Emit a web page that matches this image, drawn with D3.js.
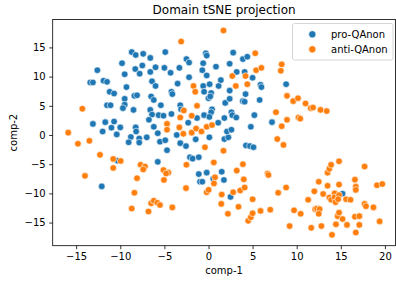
<!DOCTYPE html>
<html>
<head>
<meta charset="utf-8">
<script src="https://cdn.jsdelivr.net/npm/d3@7"></script>
<style>
  body { margin: 0; background: #fff; }
  text { font-family: "DejaVu Sans", sans-serif; fill: #000; }
</style>
</head>
<body>
<div id="chart"></div>
<script>
// series
var groups = ['pro-QAnon', 'anti-QAnon'];
var colors = ['#1f77b4', '#ff7f0e'];
var xTicks = [-15, -10, -5, 0, 5, 10, 15, 20];
var yTicks = [-15, -10, -5, 0, 5, 10, 15];

var proQAnon = [
  [-13.4,9.0],[-13.1,9.0],[-12.6,11.1],[-11.9,9.3],[-11.5,9.1],[-11.2,7.4],[-10.7,7.1],
  [-11.5,5.1],[-11.1,5.1],[-13.1,1.9],[-11.7,2.2],[-10.7,2.3],[-12.0,0.6],[-11.0,1.25],
  [-10.0,1.3],[-10.4,0.1],[-12.1,-8.8],[-10.3,-4.4],[-9.8,12.3],[-9.5,10.4],[-9.3,8.2],
  [-9.5,6.2],[-9.5,5.2],[-9.7,4.6],[-8.7,14.2],[-8.25,13.7],[-7.4,13.9],[-6.6,13.2],
  [-7.5,11.9],[-8.3,11.3],[-7.8,10.5],[-6.6,10.8],[-6.0,11.6],[-5.0,11.5],[-4.3,10.65],
  [-6.4,9.2],[-6.0,8.4],[-8.4,6.7],[-8.1,6.8],[-6.5,6.6],[-6.2,6.0],[-5.4,5.1],[-8.5,4.3],
  [-6.6,4.3],[-6.4,3.5],[-5.65,3.4],[-5.1,3.3],[-6.75,2.6],[-6.2,1.4],[-8.25,1.3],
  [-8.2,0.6],[-8.8,-0.35],[-7.85,-0.6],[-7.0,-0.4],[-9.05,-1.25],[-7.85,-1.3],[-5.75,0.3],
  [-5.5,-1.15],[-4.9,-0.9],[-4.7,-2.6],[-5.75,-4.6],[-4.9,14.2],[-3.3,11.5],[-3.5,8.8],
  [-4.2,7.4],[-4.1,7.0],[-3.2,5.1],[-3.1,4.4],[-4.2,3.6],[-3.6,0.0],[-3.2,-1.4],
  [-2.55,-1.9],[-2.5,13.0],[-2.2,12.4],[-2.2,9.9],[-2.3,2.1],[-2.1,-3.8],[-1.8,-4.05],
  [-1.1,-3.8],[-1.1,-6.7],[-0.2,-6.45],[-0.96,-8.0],[-0.7,-8.0],[0.54,-7.5],[-1.3,2.9],
  [-1.45,-0.75],[-0.6,8.4],[-0.7,11.1],[-0.6,12.3],[-0.3,14.0],[-0.2,13.6],[-0.2,10.2],
  [-0.5,7.4],[-0.5,3.4],[0.13,8.7],[0.3,7.2],[0.0,6.3],[0.2,6.6],[0.4,4.4],[0.3,3.9],
  [0.1,3.1],[0.1,-0.4],[0.85,11.7],[1.15,8.4],[1.4,9.4],[1.1,2.1],[1.8,2.9],[1.5,-6.3],
  [1.75,-7.7],[1.8,-0.7],[2.25,-0.4],[2.1,0.6],[2.6,0.9],[2.4,12.2],[2.4,7.6],[1.9,5.5],
  [2.4,6.2],[2.6,3.9],[2.7,3.4],[3.15,3.0],[2.8,14.1],[3.2,10.8],[2.5,-10.6],[3.9,13.0],
  [4.4,13.4],[4.1,10.8],[4.2,7.0],[3.9,5.8],[4.1,5.7],[4.8,1.4],[5.0,9.8],[5.2,3.4],
  [5.8,6.0],[5.9,8.6],[6.0,8.2],[4.25,-1.8],[4.7,-1.9],[5.1,-2.1],[7.2,2.2],[8.8,8.7],
  [15.2,-10.05]
];

var antiQAnon = [
  [-15.9,0.4],[-14.8,-1.5],[-14.3,4.5],[-13.5,-1.0],[-14.0,-7.0],[-12.3,-3.4],[-10.8,-4.1],
  [-9.95,-4.45],[-10.8,-5.65],[-8.1,-7.4],[-8.4,-9.9],[-8.7,-12.6],[-7.7,-5.1],[-7.2,-5.4],
  [-7.4,-5.9],[-6.8,-13.1],[-6.5,-11.7],[-6.2,-11.25],[-5.8,-11.6],[-5.5,-12.0],[-5.1,-6.0],
  [-4.55,-6.45],[-4.8,-6.6],[-5.05,-7.7],[-4.7,1.9],[-4.7,0.9],[-4.1,-12.4],[-3.1,16.0],
  [-3.2,3.0],[-3.3,1.3],[-2.8,4.2],[-2.85,0.2],[-2.5,-5.1],[-2.55,-9.1],[-1.7,8.4],
  [-1.5,7.4],[-1.3,5.0],[-1.9,3.3],[-1.9,0.4],[-1.4,1.1],[-0.8,0.6],[-0.4,-2.1],[-0.2,1.4],
  [0.4,1.7],[-0.2,-9.8],[0.02,-9.4],[0.6,-4.7],[0.74,-7.25],[0.62,-8.3],[1.7,17.9],
  [1.7,-2.7],[1.5,-10.2],[1.45,-11.8],[2.2,-13.5],[2.7,10.1],[3.1,8.4],[2.8,-9.8],
  [3.2,-6.1],[3.6,-9.5],[4.1,-9.0],[3.4,-12.3],[3.9,-5.0],[4.0,-7.6],[4.2,10.1],[4.4,8.7],
  [4.5,-14.7],[4.8,-14.1],[5.0,-13.4],[5.0,-11.0],[5.3,14.0],[5.4,11.1],[6.0,11.5],
  [5.9,-13.0],[6.7,-6.6],[6.8,-6.85],[7.0,-12.8],[7.65,3.9],[7.8,-0.7],[8.5,-1.7],[8.3,1.5],
  [7.9,-9.9],[8.8,-9.0],[8.3,12.1],[8.2,11.0],[8.9,6.7],[8.9,2.6],[9.6,5.8],[10.15,6.3],
  [10.2,3.0],[10.4,2.8],[11.0,5.4],[11.6,4.6],[11.85,4.7],[12.7,4.3],[13.4,4.1],[9.2,-15.6],
  [9.7,-12.9],[10.45,-13.5],[11.3,-11.1],[11.65,-15.9],[12.0,-9.65],[12.1,-12.7],
  [12.3,-12.6],[12.6,-12.7],[12.5,-13.5],[12.5,-8.0],[12.8,-15.6],[13.0,-10.1],[13.5,-6.45],
  [13.7,-5.8],[13.9,-5.1],[13.5,-8.7],[13.7,-10.7],[13.9,-11.1],[14.0,-17.1],[14.3,-10.0],
  [14.3,-10.7],[14.8,-10.3],[14.4,-11.5],[14.7,-11.0],[14.45,-15.3],[14.65,-13.9],
  [14.8,-13.3],[14.8,-4.5],[14.8,-8.5],[15.2,-14.4],[15.6,-11.0],[16.1,-11.1],[15.7,-15.4],
  [16.6,-7.65],[16.7,-8.85],[16.7,-9.4],[16.6,-14.0],[17.1,-13.9],[16.7,-16.7],[17.1,-15.4],
  [17.7,-5.4],[17.7,-11.8],[17.85,-12.2],[18.7,-12.4],[19.1,-8.6],[19.7,-8.4],[19.4,-14.8]
];

var width = 396, height = 282;
var plot = { left: 52.7, right: 395.5, top: 19.5, bottom: 245.7 };

var xScale = d3.scaleLinear()
  .domain([-17.66, 21.2])
  .range([plot.left, plot.right]);

var yScale = d3.scaleLinear()
  .domain([-18.96, 19.78])
  .range([plot.bottom, plot.top]);

var svg = d3.select('#chart')
  .append('svg')
  .attr('width', width)
  .attr('height', height);

svg.append('rect')
  .attr('width', width)
  .attr('height', height)
  .attr('fill', '#fff');

// points, one layer for each group
var series = [proQAnon, antiQAnon];
series.forEach(function(pts, i) {
  svg.append('g')
    .attr('class', 'dots')
    .selectAll('circle')
    .data(pts)
    .enter()
    .append('circle')
    .attr('cx', function(d) { return xScale(d[0]); })
    .attr('cy', function(d) { return yScale(d[1]); })
    .attr('r', 3.3)
    .attr('fill', colors[i])
    .attr('stroke', '#fff')
    .attr('stroke-width', 0.6);
});

// axes
var xAxis = d3.axisBottom(xScale)
  .tickValues(xTicks)
  .tickSize(3.5)
  .tickPadding(3.5);

var yAxis = d3.axisLeft(yScale)
  .tickValues(yTicks)
  .tickSize(3.5)
  .tickPadding(3.5);

var gx = svg.append('g')
  .attr('transform', 'translate(0,' + plot.bottom + ')')
  .call(xAxis);

var gy = svg.append('g')
  .attr('transform', 'translate(' + plot.left + ',0)')
  .call(yAxis);

[gx, gy].forEach(function(g) {
  g.select('.domain').remove();
  g.selectAll('line').attr('stroke', '#000').attr('stroke-width', 0.8);
  g.selectAll('text')
    .attr('font-size', '10px')
    .attr('font-family', 'DejaVu Sans, sans-serif')
    .attr('fill', '#000');
});

// frame
svg.append('rect')
  .attr('x', plot.left)
  .attr('y', plot.top)
  .attr('width', plot.right - plot.left)
  .attr('height', plot.bottom - plot.top)
  .attr('fill', 'none')
  .attr('stroke', '#000')
  .attr('stroke-width', 0.8);

// labels
svg.append('text')
  .attr('x', (plot.left + plot.right) / 2)
  .attr('y', 14)
  .attr('text-anchor', 'middle')
  .attr('font-size', '12px')
  .text('Domain tSNE projection');

svg.append('text')
  .attr('x', (plot.left + plot.right) / 2)
  .attr('y', 274)
  .attr('text-anchor', 'middle')
  .attr('font-size', '10px')
  .text('comp-1');

svg.append('text')
  .attr('transform', 'translate(17,' + (plot.top + plot.bottom) / 2 + ') rotate(-90)')
  .attr('text-anchor', 'middle')
  .attr('font-size', '10px')
  .text('comp-2');

// legend
var legend = svg.append('g');

legend.append('rect')
  .attr('x', 292.5)
  .attr('y', 23.5)
  .attr('width', 100.5)
  .attr('height', 36.5)
  .attr('rx', 2)
  .attr('fill', '#fff')
  .attr('fill-opacity', 0.8)
  .attr('stroke', '#ccc')
  .attr('stroke-width', 0.8);

var items = legend.selectAll('g.item')
  .data(groups)
  .enter()
  .append('g')
  .attr('class', 'item')
  .attr('transform', function(d, i) { return 'translate(0,' + (34.3 + i * 15) + ')'; });

items.append('circle')
  .attr('cx', 312.3)
  .attr('cy', 0)
  .attr('r', 3.6)
  .attr('fill', function(d, i) { return colors[i]; })
  .attr('stroke', '#fff')
  .attr('stroke-width', 0.6);

items.append('text')
  .attr('x', 331)
  .attr('y', 3.5)
  .attr('font-size', '10px')
  .text(function(d) { return d; });
</script>
</body>
</html>
